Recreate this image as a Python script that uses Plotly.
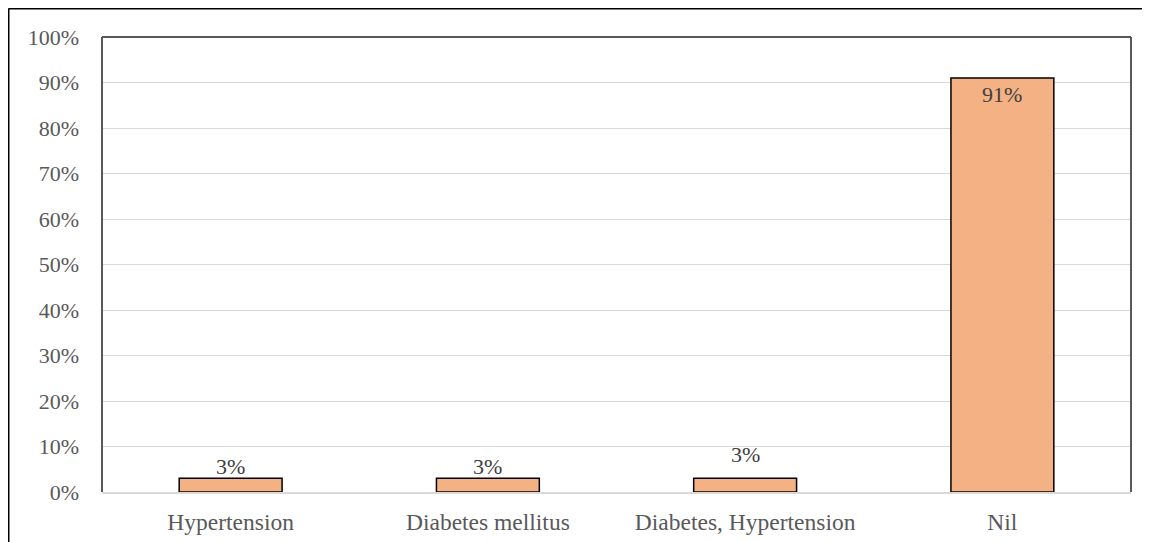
import plotly.graph_objects as go

categories = ["Hypertension", "Diabetes mellitus", "Diabetes, Hypertension", "Nil"]
values = [3, 3, 3, 91]
labels = ["3%", "3%", "3%", "91%"]
label_shift = [12, 12, 24, -17]
y_ticks = [0, 10, 20, 30, 40, 50, 60, 70, 80, 90, 100]
y_tick_text = [f"{v}%" for v in y_ticks]

# page body adds an 8px offset; margins account for it
W, H = 1150, 542
L, R, T, B = 94, 27, 29, 58
pw, ph = W - L - R, H - T - B

fig = go.Figure()
fig.add_trace(go.Bar(
    x=categories, y=values,
    marker=dict(color="#F4B183", line=dict(color="#000000", width=1.5)),
    hoverinfo="skip",
))

for c, v, t, s in zip(categories, values, labels, label_shift):
    fig.add_annotation(x=c, y=v, text=t, showarrow=False, yshift=s,
                       font=dict(family="Liberation Serif", size=22, color="#404040"))

yfont = dict(family="Liberation Serif", size=22, color="#595959")
xfont = dict(family="Liberation Serif", size=23.5, color="#595959")
fig.update_layout(
    width=W, height=H,
    margin=dict(l=L, r=R, t=T, b=B),
    paper_bgcolor="white", plot_bgcolor="white",
    showlegend=False, bargap=0.6,
    font=yfont,
    xaxis=dict(showgrid=False, showline=True, linecolor="#d9d9d9", linewidth=1.5,
               ticks="", tickfont=xfont, ticklabelstandoff=8, fixedrange=True),
    yaxis=dict(range=[0, 100], tickvals=y_ticks, ticktext=y_tick_text,
               showgrid=True, gridcolor="#d9d9d9", gridwidth=1.3,
               zeroline=False, showline=False, ticks="", tickfont=yfont,
               ticklabelstandoff=22, fixedrange=True),
)

# plot-area border (dark gray left/top/right)
for x0, y0, x1, y1 in [(0, 0, 0, 1), (0, 1, 1, 1), (1, 0, 1, 1)]:
    fig.add_shape(type="line", xref="paper", yref="paper", x0=x0, y0=y0, x1=x1, y1=y1,
                  line=dict(color="#595959", width=2), layer="above")

# outer frame (left and top black lines)
xl = (0.5 - L) / pw
yt = 1 + (T - 0.5) / ph
fig.add_shape(type="line", xref="paper", yref="paper", x0=xl, y0=yt, x1=(W + 10 - L) / pw, y1=yt,
              line=dict(color="#000000", width=2))
fig.add_shape(type="line", xref="paper", yref="paper", x0=xl, y0=yt, x1=xl, y1=-(B + 10) / ph,
              line=dict(color="#000000", width=2))

fig.write_html("out.html")
